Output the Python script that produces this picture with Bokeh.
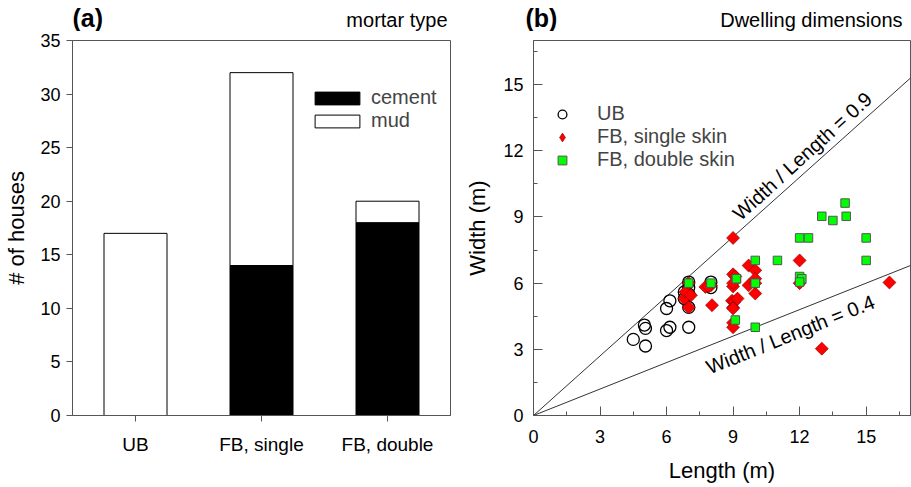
import math
from bokeh.plotting import figure
from bokeh.models import (Range1d, FactorRange, FixedTicker, Legend, LegendItem, ColumnDataSource)
from bokeh.layouts import row, column
from bokeh.embed import file_html
from bokeh.resources import INLINE
from bokeh.core.properties import value

FONT = "Liberation Sans"
AX = "#555555"

# ---------------- data: panel (a) ----------------
categories = ["UB", "FB, single", "FB, double"]
cement_counts = [0, 14, 18]
mud_counts = [17, 18, 2]
count_ticks = [0, 5, 10, 15, 20, 25, 30, 35]

# ---------------- data: panel (b) ----------------
ub_length = [4.5, 5.05, 5.05, 5.0, 6.0, 6.15, 7.0, 6.0, 6.15, 6.8, 7.0, 8.0, 7.0, 7.0, 7.0, 8.0, 6.8]
ub_width = [3.45, 3.15, 3.95, 4.1, 3.85, 4.0, 4.0, 4.85, 5.2, 5.6, 6.05, 6.05, 5.5, 4.9, 5.8, 5.8, 5.3]

fbs_length = [9.0, 9.7, 10.0, 9.0, 9.1, 9.0, 9.7, 10.0, 7.75, 8.05, 7.0, 6.8, 7.0, 6.85, 7.1,
              8.95, 9.05, 9.0, 9.2, 9.0, 9.0, 12.0, 12.0, 16.05, 13.0, 9.0, 8.0, 7.0, 10.0, 7.9, 9.0, 10.0]
fbs_width = [8.05, 6.8, 6.58, 6.4, 6.3, 5.85, 5.9, 5.53, 5.83, 5.0, 5.53, 5.3, 4.9, 5.6, 5.45,
             5.2, 5.15, 4.9, 5.3, 4.2, 4.0, 7.03, 6.0, 6.03, 3.03, 6.0, 5.9, 6.0, 6.0, 5.85, 4.85, 6.2]

fbd_length = [7.0, 8.0, 9.15, 9.1, 10.0, 10.0, 10.0, 11.0, 12.0, 12.4, 13.0, 13.5, 14.05, 14.1,
              15.0, 15.0, 12.0, 12.1, 12.0, 9.15]
fbd_width = [6.0, 6.0, 6.2, 4.33, 7.03, 6.0, 4.0, 7.03, 8.05, 8.05, 9.03, 8.84, 9.63, 9.03,
             8.05, 7.03, 6.3, 6.2, 6.05, 6.2]

dim_ticks = [0, 3, 6, 9, 12, 15]
dim_minor = [1.5, 4.5, 7.5, 10.5, 13.5, 16.5]
dim_max = 17
ratios = [0.9, 0.4]

# panel headings
panel_tags = ["(a)", "(b)"]
panel_subtitles = ["mortar type", "Dwelling dimensions"]

FS_TICK = "18px"
FS_AXLAB = "22px"
FS_TEXT = "20px"

TOTAL_W = 911
HEAD_H = 31
TOP_B = 9
L_W, R_W = 460, 451
PLOT_H = 454


def style_axis(ax):
    ax.axis_line_color = AX
    ax.major_tick_line_color = AX
    ax.minor_tick_line_color = AX
    ax.major_label_text_font = FONT
    ax.major_label_text_font_size = FS_TICK
    ax.major_label_text_color = "black"
    ax.axis_label_text_font = FONT
    ax.axis_label_text_font_size = FS_AXLAB
    ax.axis_label_text_font_style = "normal"
    ax.axis_label_text_color = "black"


# ================= header (panel tags and subtitles) =================
head = figure(width=TOTAL_W, height=HEAD_H, x_range=Range1d(0, TOTAL_W), y_range=Range1d(HEAD_H, 0),
              output_backend="svg", toolbar_location=None, title=None, min_border=0,
              x_axis_type=None, y_axis_type=None)
head.grid.visible = False
head.outline_line_color = None
head.text(x=[72, 525], y=[17, 17], text=panel_tags, text_font=value(FONT), text_font_size="25px",
          text_font_style="bold", text_align="left", text_baseline="alphabetic", text_color="black")
head.text(x=[447, 902], y=[19, 19], text=panel_subtitles, text_font=value(FONT), text_font_size=FS_TEXT,
          text_align="right", text_baseline="alphabetic", text_color="black")

# ================= panel (a) =================
FA_H = 377
p1 = figure(width=L_W, height=PLOT_H, x_range=FactorRange(*categories), y_range=Range1d(0, 35),
            output_backend="svg", toolbar_location=None, title=None,
            min_border_left=72, min_border_right=L_W - 72 - 378, min_border_top=TOP_B,
            min_border_bottom=PLOT_H - TOP_B - FA_H)
p1.grid.visible = False
p1.outline_line_color = AX

src1 = ColumnDataSource(dict(cat=categories, cement=cement_counts, mud=mud_counts))
rs = p1.vbar_stack(["cement", "mud"], x="cat", width=0.5, source=src1,
                   fill_color=["black", "white"], line_color="black", line_width=1)

style_axis(p1.xaxis[0])
style_axis(p1.yaxis[0])
p1.yaxis.ticker = FixedTicker(ticks=count_ticks, minor_ticks=[])
p1.yaxis.axis_label = "# of houses"
p1.yaxis.major_tick_out = 6
p1.yaxis.major_tick_in = 0
p1.yaxis.major_label_standoff = 6
p1.yaxis.axis_label_standoff = 8
p1.xaxis.major_tick_out = 6
p1.xaxis.major_tick_in = 0
p1.xaxis.major_label_standoff = 12
p1.xaxis.major_label_text_font_size = "19px"
p1.xaxis.major_label_orientation = "horizontal"

leg1 = Legend(items=[LegendItem(label="cement", renderers=[rs[0]]),
                     LegendItem(label="mud", renderers=[rs[1]])],
              location=(237, 283), orientation="vertical",
              border_line_color=None, background_fill_alpha=0,
              padding=0, margin=0, spacing=0,
              glyph_width=56, glyph_height=16, label_height=21, label_standoff=6,
              label_text_font=FONT, label_text_font_size=FS_TEXT)
p1.add_layout(leg1)

# ================= panel (b) =================
FB_W, FB_H = 377, 380
p2 = figure(width=R_W, height=PLOT_H, x_range=Range1d(0, dim_max), y_range=Range1d(0, dim_max),
            output_backend="svg", toolbar_location=None, title=None,
            min_border_left=R_W - FB_W - 1, min_border_right=1, min_border_top=TOP_B,
            min_border_bottom=PLOT_H - TOP_B - FB_H)
p2.grid.visible = False
p2.outline_line_color = AX

for ax in (p2.xaxis[0], p2.yaxis[0]):
    style_axis(ax)
    ax.ticker = FixedTicker(ticks=dim_ticks, minor_ticks=dim_minor)
    ax.major_tick_in = 9
    ax.major_tick_out = 0
    ax.minor_tick_in = 4
    ax.minor_tick_out = 0
    ax.axis_label_standoff = 10
p2.xaxis.major_label_standoff = 14
p2.xaxis.axis_label_standoff = 12
p2.yaxis.major_label_standoff = 10
p2.xaxis.axis_label = "Length (m)"
p2.yaxis.axis_label = "Width (m)"

# ratio lines
sx = FB_W / dim_max
sy = FB_H / dim_max
line_src = ColumnDataSource(dict(x0=[0] * len(ratios), y0=[0] * len(ratios),
                                 x1=[dim_max] * len(ratios), y1=[r * dim_max for r in ratios]))
p2.segment(x0="x0", y0="y0", x1="x1", y1="y1", source=line_src, line_color="#333333", line_width=1)

# labels of the ratio lines: placed along each line, above (+1) or below (-1) it
label_center_x = [12.55, 11.25]
label_side = [1, -1]
label_offset_px = [14, 20]
tx, ty, ta, tt = [], [], [], []
for r, cx, s, d in zip(ratios, label_center_x, label_side, label_offset_px):
    th = math.atan(r * sy / sx)
    tx.append(cx + s * (-math.sin(th)) * d / sx)
    ty.append(r * cx + s * math.cos(th) * d / sy)
    ta.append(th)
    tt.append(f"Width / Length = {r}")
p2.text(x="x", y="y", text="t", angle="a", source=ColumnDataSource(dict(x=tx, y=ty, a=ta, t=tt)),
        text_font=value(FONT), text_font_size=FS_TEXT, text_align="center",
        text_baseline="middle", text_color="black")

# legend key for the diamond series (legend glyphs ignore marker angle); drawn at zero
# size underneath the real markers so only its legend swatch shows
r_fbs_key = p2.scatter(fbs_length, fbs_width, marker="diamond", size=0,
                       fill_color="#ff0000", line_color="#7a0000", line_width=0.6)
r_ub = p2.scatter(ub_length, ub_width, marker="circle", size=12, fill_color=None,
                  line_color="black", line_width=1.3)
r_fbs = p2.scatter(fbs_length, fbs_width, marker="square", angle=math.pi / 4, size=9.2,
                   fill_color="#ff0000", line_color="#7a0000", line_width=0.6)
r_fbd = p2.scatter(fbd_length, fbd_width, marker="square", size=8.5, fill_color="#00ff00",
                   line_color="#555555", line_width=1)

leg2 = Legend(items=[LegendItem(label="UB", renderers=[r_ub]),
                     LegendItem(label="FB, single skin", renderers=[r_fbs_key]),
                     LegendItem(label="FB, double skin", renderers=[r_fbd])],
              location=(16, 244), orientation="vertical",
              border_line_color=None, background_fill_alpha=0,
              padding=0, margin=0, spacing=0,
              glyph_width=26, glyph_height=22, label_height=20, label_standoff=22,
              label_text_font=FONT, label_text_font_size=FS_TEXT)
p2.add_layout(leg2)

layout = column(head, row(p1, p2, spacing=0), spacing=0)
open("out.html", "w").write(file_html(layout, INLINE))
